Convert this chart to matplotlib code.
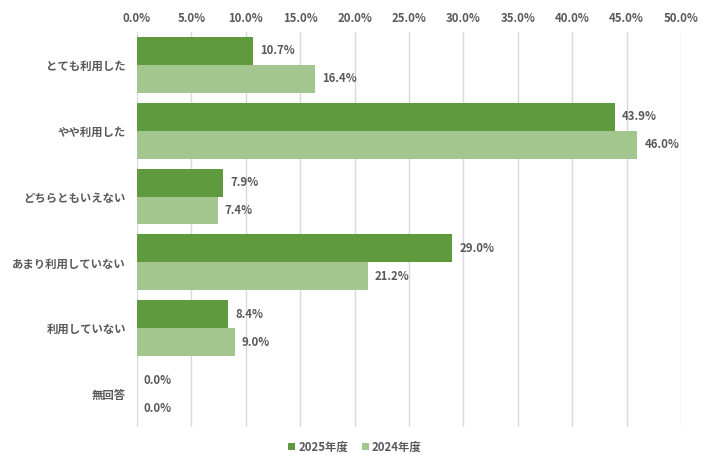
import numpy as np
import matplotlib
matplotlib.use('Agg')
import matplotlib.pyplot as plt
from matplotlib.ticker import PercentFormatter

plt.rcParams['font.family'] = ['Noto Sans CJK JP', 'DejaVu Sans']

categories = ['とても利用した', 'やや利用した', 'どちらともいえない', 'あまり利用していない', '利用していない', '無回答']
series_names = ['2025年度', '2024年度']
values_2025 = [10.7, 43.9, 7.9, 29.0, 8.4, 0.0]
values_2024 = [16.4, 46.0, 7.4, 21.2, 9.0, 0.0]
colors = ['#5f9a3e', '#a3c68f']

fig = plt.figure(figsize=(7.1, 4.55), dpi=100)
ax = fig.add_axes([0.193, 0.0615, 0.766, 0.8685])

y = np.arange(len(categories))
h = 0.425
txtc = '#595959'

b1 = ax.barh(y - h/2, values_2025, height=h, color=colors[0], label=series_names[0])
b2 = ax.barh(y + h/2, values_2024, height=h, color=colors[1], label=series_names[1])

for bars, vals in ((b1, values_2025), (b2, values_2024)):
    for rect, v in zip(bars, vals):
        ax.annotate(f'{v:.1f}%', (rect.get_width(), rect.get_y() + rect.get_height()/2),
                    xytext=(5, 0), textcoords='offset points', va='center', ha='left',
                    fontsize=8.2, fontweight='bold', color=txtc)

ax.set_xlim(0, 50)
ax.set_xticks(np.arange(0, 50.1, 5))
ax.xaxis.set_major_formatter(PercentFormatter(decimals=1))
ax.xaxis.tick_top()
ax.set_ylim(len(categories) - 0.5, -0.5)
ax.set_yticks(y)
ax.set_yticklabels(categories)
ax.tick_params(axis='both', length=0, labelsize=8.2, colors=txtc)
ax.tick_params(axis='x', pad=5)
ax.tick_params(axis='y', pad=8)
for lab in ax.get_xticklabels() + ax.get_yticklabels():
    lab.set_fontweight('bold')
ax.grid(axis='x', color='#d9d9d9', linewidth=1)
ax.set_axisbelow(True)
for s in ax.spines.values():
    s.set_visible(False)

leg = fig.legend(loc='lower center', bbox_to_anchor=(0.5, -0.02), ncol=2, frameon=False,
                 fontsize=8.2, handlelength=0.6, handleheight=0.6, handletextpad=0.3,
                 columnspacing=1.2)
for t in leg.get_texts():
    t.set_color(txtc)
    t.set_fontweight('bold')

fig.savefig('out.png', dpi=100)
